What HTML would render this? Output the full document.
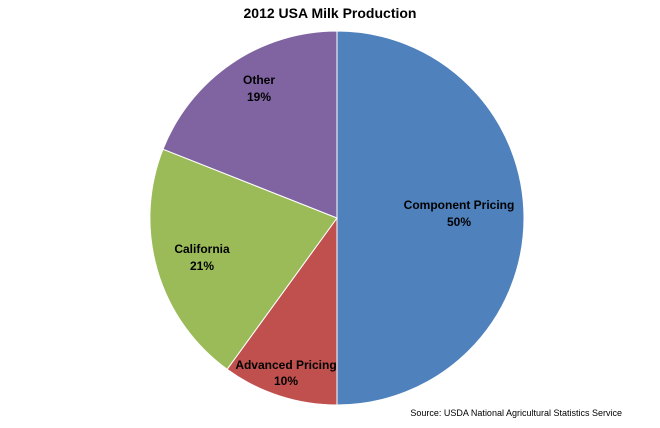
<!DOCTYPE html>
<html><head><meta charset="utf-8"><style>
html,body{margin:0;padding:0;background:#fff;}
</style></head><body>
<svg width="660" height="423" viewBox="0 0 660 423" xmlns="http://www.w3.org/2000/svg" font-family="Liberation Sans, sans-serif">
<rect width="660" height="423" fill="#fff"/>
<text x="330" y="18" text-anchor="middle" font-size="14" font-weight="bold" fill="#000">2012 USA Milk Production</text>
<g stroke="#fff" stroke-width="1">
<path d="M337,218 L337,31 A187,187 0 0 1 337,405 Z" fill="#4F81BD"/>
<path d="M337,218 L337,405 A187,187 0 0 1 227.1,369.3 Z" fill="#C0504D"/>
<path d="M337,218 L227.1,369.3 A187,187 0 0 1 163.0,149.2 Z" fill="#9BBB59"/>
<path d="M337,218 L163.0,149.2 A187,187 0 0 1 337,31 Z" fill="#8064A2"/>
</g>
<g font-size="12" font-weight="bold" fill="#000" text-anchor="middle">
<text x="459" y="209">Component Pricing</text>
<text x="459" y="226">50%</text>
<text x="286" y="369">Advanced Pricing</text>
<text x="286" y="385">10%</text>
<text x="202" y="253">California</text>
<text x="202" y="270">21%</text>
<text x="259" y="84">Other</text>
<text x="259" y="101">19%</text>
</g>
<text x="622" y="416" text-anchor="end" font-size="9" fill="#000">Source: USDA National Agricultural Statistics Service</text>
</svg>
</body></html>
